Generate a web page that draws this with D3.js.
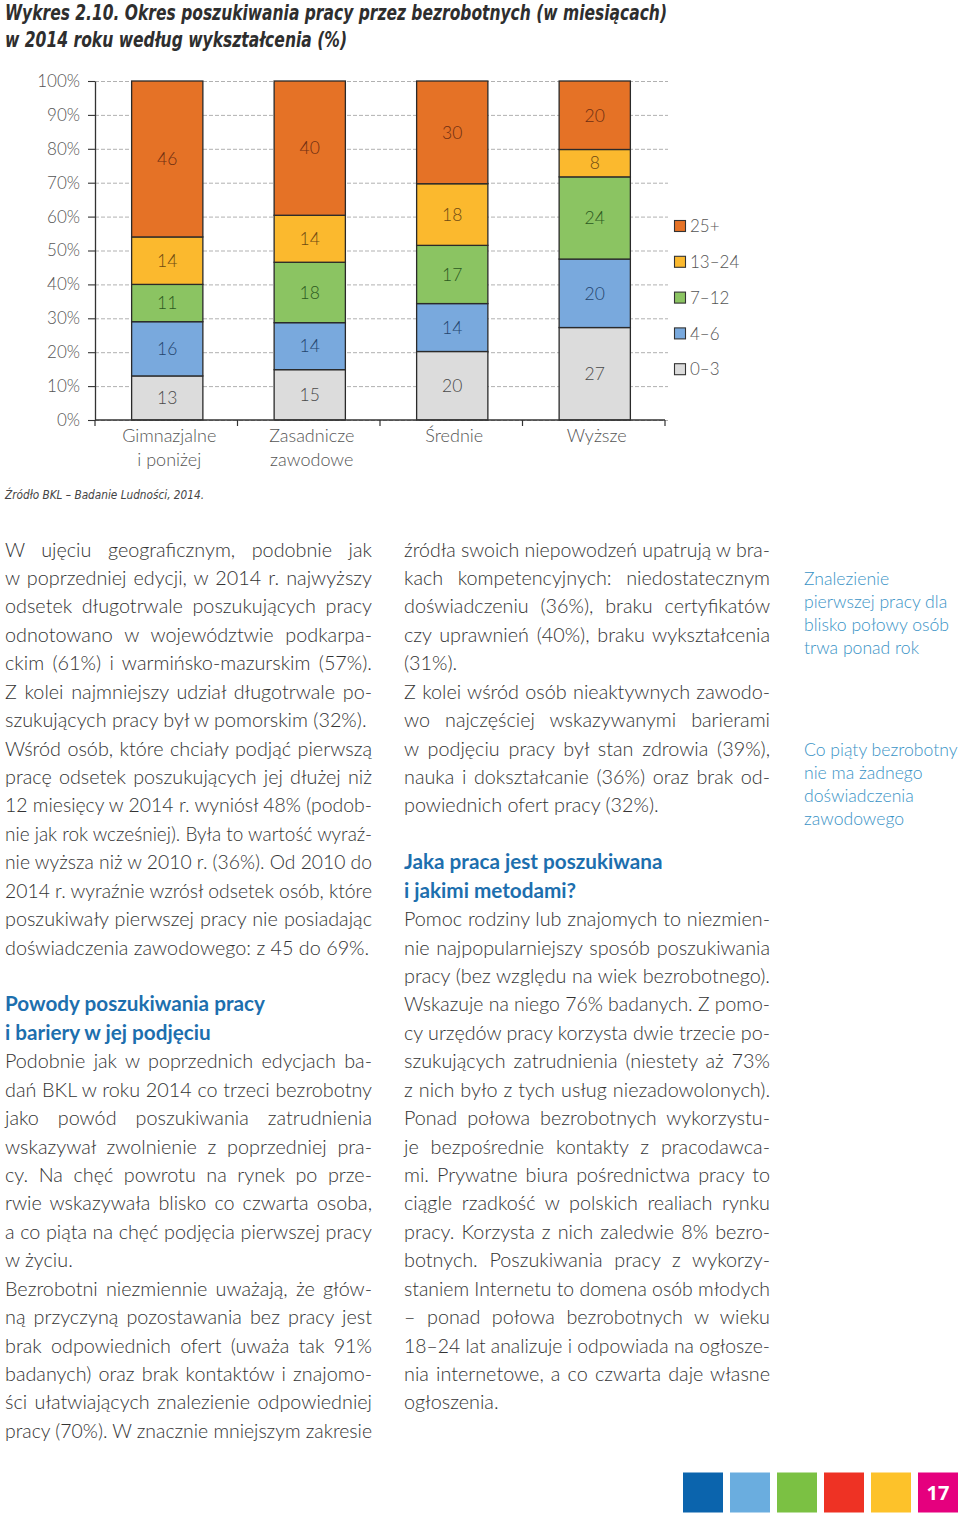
<!DOCTYPE html>
<html><head><meta charset="utf-8">
<script src="https://cdn.jsdelivr.net/npm/d3@7"></script>
<style>
html,body{margin:0;padding:0;background:#fff;}
svg{display:block;}
</style></head><body>
<svg id="page" width="960" height="1519"></svg>
<script>
// ---------- DATA ----------
const titleLines = ["Wykres 2.10. Okres poszukiwania pracy przez bezrobotnych (w miesiącach)", "w 2014 roku według wykształcenia (%)"];
const categories = ["Gimnazjalne i poniżej", "Zasadnicze zawodowe", "Średnie", "Wyższe"];
const categoryLabelLines = [["Gimnazjalne", "i poniżej"], ["Zasadnicze", "zawodowe"], ["Średnie"], ["Wyższe"]];
const durationKeys = ["0–3", "4–6", "7–12", "13–24", "25+"];
const m0_3   = [13, 15, 20, 27];
const m4_6   = [16, 14, 14, 20];
const m7_12  = [11, 18, 17, 24];
const m13_24 = [14, 14, 18, 8];
const m25plus = [46, 40, 30, 20];
const yTickValues = [0, 10, 20, 30, 40, 50, 60, 70, 80, 90, 100];
const sourceText = "Źródło BKL – Badanie Ludności, 2014.";

const col1Para1 = [
  "W ujęciu geograficznym, podobnie jak",
  "w poprzedniej edycji, w 2014 r. najwyższy",
  "odsetek długotrwale poszukujących pracy",
  "odnotowano w województwie podkarpa-",
  "ckim (61%) i warmińsko-mazurskim (57%).",
  "Z kolei najmniejszy udział długotrwale po-",
  "szukujących pracy był w pomorskim (32%)."];
const col1Para2 = [
  "Wśród osób, które chciały podjąć pierwszą",
  "pracę odsetek poszukujących jej dłużej niż",
  "12 miesięcy w 2014 r. wyniósł 48% (podob-",
  "nie jak rok wcześniej). Była to wartość wyraź-",
  "nie wyższa niż w 2010 r. (36%). Od 2010 do",
  "2014 r. wyraźnie wzrósł odsetek osób, które",
  "poszukiwały pierwszej pracy nie posiadając",
  "doświadczenia zawodowego: z 45 do 69%."];
const heading1 = ["Powody poszukiwania pracy", "i bariery w jej podjęciu"];
const col1Para3 = [
  "Podobnie jak w poprzednich edycjach ba-",
  "dań BKL w roku 2014 co trzeci bezrobotny",
  "jako powód poszukiwania zatrudnienia",
  "wskazywał zwolnienie z poprzedniej pra-",
  "cy. Na chęć powrotu na rynek po prze-",
  "rwie wskazywała blisko co czwarta osoba,",
  "a co piąta na chęć podjęcia pierwszej pracy",
  "w życiu."];
const col1Para4 = [
  "Bezrobotni niezmiennie uważają, że głów-",
  "ną przyczyną pozostawania bez pracy jest",
  "brak odpowiednich ofert (uważa tak 91%",
  "badanych) oraz brak kontaktów i znajomo-",
  "ści ułatwiających znalezienie odpowiedniej",
  "pracy (70%). W znacznie mniejszym zakresie"];
const col2Para1 = [
  "źródła swoich niepowodzeń upatrują w bra-",
  "kach kompetencyjnych: niedostatecznym",
  "doświadczeniu (36%), braku certyfikatów",
  "czy uprawnień (40%), braku wykształcenia",
  "(31%)."];
const col2Para2 = [
  "Z kolei wśród osób nieaktywnych zawodo-",
  "wo najczęściej wskazywanymi barierami",
  "w podjęciu pracy był stan zdrowia (39%),",
  "nauka i dokształcanie (36%) oraz brak od-",
  "powiednich ofert pracy (32%)."];
const heading2 = ["Jaka praca jest poszukiwana", "i jakimi metodami?"];
const col2Para3 = [
  "Pomoc rodziny lub znajomych to niezmien-",
  "nie najpopularniejszy sposób poszukiwania",
  "pracy (bez względu na wiek bezrobotnego).",
  "Wskazuje na niego 76% badanych. Z pomo-",
  "cy urzędów pracy korzysta dwie trzecie po-",
  "szukujących zatrudnienia (niestety aż 73%",
  "z nich było z tych usług niezadowolonych).",
  "Ponad połowa bezrobotnych wykorzystu-",
  "je bezpośrednie kontakty z pracodawca-",
  "mi. Prywatne biura pośrednictwa pracy to",
  "ciągle rzadkość w polskich realiach rynku",
  "pracy. Korzysta z nich zaledwie 8% bezro-",
  "botnych. Poszukiwania pracy z wykorzy-",
  "staniem Internetu to domena osób młodych",
  "– ponad połowa bezrobotnych w wieku",
  "18–24 lat analizuje i odpowiada na ogłosze-",
  "nia internetowe, a co czwarta daje własne",
  "ogłoszenia."];
const sideNote1 = ["Znalezienie", "pierwszej pracy dla", "blisko połowy osób", "trwa ponad rok"];
const sideNote2 = ["Co piąty bezrobotny", "nie ma żadnego", "doświadczenia", "zawodowego"];
const pageNumber = "17";
const footerColors = ["#0b64ad", "#6aaddf", "#7bc143", "#ee3224", "#fdc22a", "#e5007e"];

// ---------- STYLE ----------
const fills = {"0–3": "#dcdcdc", "4–6": "#79a9dd", "7–12": "#8bc462", "13–24": "#fbb92e", "25+": "#e57226"};
const labelFills = {"0–3": "#4a4a4a", "4–6": "#24456e", "7–12": "#2c5a1f", "13–24": "#6e4a12", "25+": "#6e2e12"};
const lightFont = "Lato, 'Noto Sans', sans-serif";
const condFont = "'Liberation Sans Narrow', 'DejaVu Sans Condensed', Roboto, sans-serif";

const svg = d3.select("#page");
svg.append("rect").attr("width", 960).attr("height", 1519).attr("fill", "#fff");

// ---------- TITLE ----------
svg.append("g").selectAll("text").data(titleLines).join("text")
  .attr("x", 5).attr("y", (d, i) => 20 + i * 27)
  .attr("font-family", condFont).attr("font-weight", 700).attr("font-style", "italic")
  .attr("font-size", 22).attr("fill", "#2e2e2e")
  .attr("textLength", (d, i) => i === 0 ? 662 : 342).attr("lengthAdjust", "spacingAndGlyphs")
  .text(d => d);

// ---------- CHART ----------
const y = d3.scaleLinear().domain([0, 1]).range([420, 81]);
const x = d3.scaleBand().domain(categories).range([96, 666]).paddingInner(0.5).paddingOuter(0.25);
const rows = categories.map((c, i) => ({cat: c, "0–3": m0_3[i], "4–6": m4_6[i], "7–12": m7_12[i], "13–24": m13_24[i], "25+": m25plus[i]}));
const series = d3.stack().keys(durationKeys).offset(d3.stackOffsetExpand)(rows);

// grid
svg.append("g").attr("transform", "translate(95,0)")
  .call(d3.axisLeft(y).tickValues(yTickValues.map(v => v / 100)).tickSize(-573).tickFormat(""))
  .call(g => {
    g.select(".domain").remove();
    g.selectAll(".tick line").attr("stroke", "#a8a8a8").attr("stroke-dasharray", "4,2").attr("stroke-width", 0.9);
  });

// bars
const segG = svg.append("g");
series.forEach(s => {
  segG.selectAll(null).data(s).join("rect")
    .attr("x", d => x(d.data.cat)).attr("width", x.bandwidth())
    .attr("y", d => y(d[1])).attr("height", d => y(d[0]) - y(d[1]))
    .attr("fill", fills[s.key]).attr("stroke", "#2a2a2a").attr("stroke-width", 1.3);
  segG.selectAll(null).data(s).join("text")
    .attr("x", d => x(d.data.cat) + x.bandwidth() / 2)
    .attr("y", d => (y(d[0]) + y(d[1])) / 2).attr("dy", "0.36em")
    .attr("text-anchor", "middle").attr("font-family", lightFont).attr("font-weight", 300)
    .attr("font-size", 17.5).attr("fill", labelFills[s.key])
    .text(d => d.data[s.key]);
});

// y axis
svg.append("g").attr("transform", "translate(95,0)")
  .call(d3.axisLeft(y).tickValues(yTickValues.map(v => v / 100)).tickFormat(d => Math.round(d * 100) + "%").tickSize(7).tickPadding(8).tickSizeOuter(0))
  .call(g => {
    g.select(".domain").attr("stroke", "#333").attr("stroke-width", 1.3);
    g.selectAll(".tick line").attr("stroke", "#333").attr("stroke-width", 1.1);
    g.selectAll(".tick text").attr("font-family", lightFont).attr("font-weight", 300).attr("font-size", 17).attr("fill", "#555");
  });

// x axis
const xb = svg.append("g");
xb.append("line").attr("x1", 95).attr("x2", 665).attr("y1", y(0)).attr("y2", y(0)).attr("stroke", "#333").attr("stroke-width", 1.3);
xb.selectAll("line.tk").data(d3.range(categories.length + 1)).join("line").attr("class", "tk")
  .attr("x1", i => 95 + i * (570 / categories.length)).attr("x2", i => 95 + i * (570 / categories.length))
  .attr("y1", y(0)).attr("y2", y(0) + 6).attr("stroke", "#333").attr("stroke-width", 1.2);
xb.selectAll("text").data(categories).join("text")
  .attr("x", d => x(d) + x.bandwidth() / 2 + 2).attr("y", 442)
  .attr("text-anchor", "middle").attr("font-family", lightFont).attr("font-weight", 300)
  .attr("font-size", 18).attr("fill", "#555")
  .each(function (d, i) {
    d3.select(this).selectAll("tspan").data(categoryLabelLines[i]).join("tspan")
      .attr("x", x(d) + x.bandwidth() / 2 + 2).attr("dy", (t, j) => j === 0 ? 0 : 24).text(t => t);
  });

// legend
const legendKeys = durationKeys.slice().reverse();
const lg = svg.append("g").selectAll("g").data(legendKeys).join("g")
  .attr("transform", (d, i) => `translate(674.5,${226 + i * 35.8})`);
lg.append("rect").attr("x", 0).attr("y", -5.5).attr("width", 11).attr("height", 11)
  .attr("fill", d => fills[d]).attr("stroke", "#333").attr("stroke-width", 1.1);
lg.append("text").attr("x", 15.5).attr("y", 0).attr("dy", "0.36em")
  .attr("font-family", lightFont).attr("font-weight", 300).attr("font-size", 17).attr("fill", "#555").text(d => d);

// source
svg.append("text").attr("x", 5).attr("y", 499)
  .attr("font-family", condFont).attr("font-style", "italic").attr("font-size", 13).attr("fill", "#444")
  .attr("textLength", 199).attr("lengthAdjust", "spacingAndGlyphs").text(sourceText);

// ---------- BODY TEXT ----------
const LH = 28.43, BASE0 = 556.5;
function drawBlock(lines, x0, width, k0, opts) {
  const g = svg.append("g");
  lines.forEach((line, i) => {
    const t = g.append("text").attr("x", x0).attr("y", BASE0 + (k0 + i) * LH)
      .attr("font-family", lightFont).attr("font-weight", opts.bold ? 700 : 300)
      .attr("font-size", opts.size || 19.8).attr("fill", opts.color || "#333")
      .text(line);
    const justify = opts.justify && (i < lines.length - 1 || opts.continues);
    if (justify) {
      const natural = t.node().getComputedTextLength();
      const spaces = (line.match(/ /g) || []).length;
      if (natural >= width || spaces === 0) {
        t.attr("textLength", width).attr("lengthAdjust", "spacingAndGlyphs");
      } else {
        t.style("word-spacing", ((width - natural) / spaces) + "px");
        const after = t.node().getComputedTextLength();
        if (Math.abs(after - width) > 2) t.style("word-spacing", null).attr("textLength", width).attr("lengthAdjust", "spacing");
      }
    }
  });
  return k0 + lines.length;
}
const C1X = 5, C1W = 367, C2X = 404, C2W = 366;
const headColor = "#1d6fae";
let k = 0;
k = drawBlock(col1Para1, C1X, C1W, k, {justify: true});
k = drawBlock(col1Para2, C1X, C1W, k, {justify: true});
k += 1;
k = drawBlock(heading1, C1X, C1W, k, {bold: true, color: headColor, size: 20.7});
k = drawBlock(col1Para3, C1X, C1W, k, {justify: true});
k = drawBlock(col1Para4, C1X, C1W, k, {justify: true, continues: true});
k = 0;
k = drawBlock(col2Para1, C2X, C2W, k, {justify: true});
k = drawBlock(col2Para2, C2X, C2W, k, {justify: true});
k += 1;
k = drawBlock(heading2, C2X, C2W, k, {bold: true, color: headColor, size: 20.7});
k = drawBlock(col2Para3, C2X, C2W, k, {justify: true});

// side notes
[[sideNote1, 584.5], [sideNote2, 755.5]].forEach(([lines, y0]) => {
  svg.append("g").selectAll("text").data(lines).join("text")
    .attr("x", 804).attr("y", (d, i) => y0 + i * 23)
    .attr("font-family", lightFont).attr("font-weight", 300).attr("font-size", 17.6).attr("fill", "#3a93c6")
    .text(d => d);
});

// footer squares
const fg = svg.append("g");
fg.selectAll("rect").data(footerColors).join("rect")
  .attr("x", (d, i) => 683 + i * 47).attr("y", 1472.5).attr("width", 40).attr("height", 40).attr("fill", d => d);
fg.append("text").attr("x", 683 + 5 * 47 + 20).attr("y", 1493).attr("dy", "0.36em").attr("text-anchor", "middle")
  .attr("font-family", "'Open Sans', sans-serif").attr("font-weight", 700).attr("font-size", 20).attr("fill", "#fff").text(pageNumber);
</script>
</body></html>
